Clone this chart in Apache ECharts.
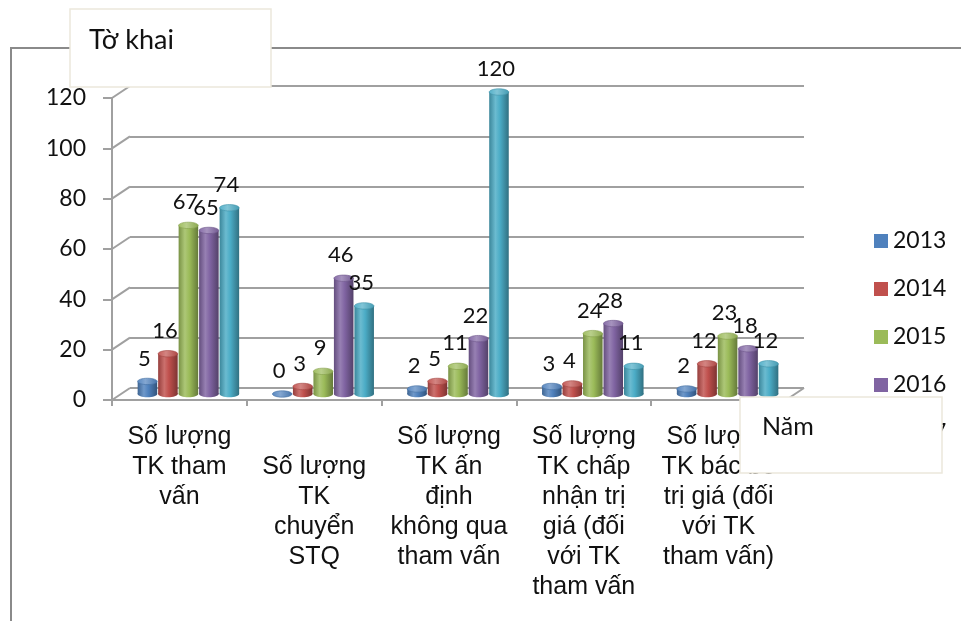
<!DOCTYPE html>
<html>
<head>
<meta charset="utf-8">
<script src="https://cdn.jsdelivr.net/npm/echarts@6/dist/echarts.min.js"></script>
<style>
  html, body { margin: 0; padding: 0; background: #ffffff; }
  #chart { width: 961px; height: 621px; }
</style>
</head>
<body>
<div id="chart"></div>
<script>
// Categories (x axis) and yearly series
const categories = [
  'Số lượng\nTK tham\nvấn',
  '\nSố lượng\nTK\nchuyển\nSTQ',
  'Số lượng\nTK ấn\nđịnh\nkhông qua\ntham vấn',
  'Số lượng\nTK chấp\nnhận trị\ngiá (đối\nvới TK\ntham vấn',
  'Số lượng\nTK bác bỏ\ntrị giá (đối\nvới TK\ntham vấn)'
];
const years = ['2013', '2014', '2015', '2016', '2017'];
const v2013 = [5, 0, 2, 3, 2];
const v2014 = [16, 3, 5, 4, 12];
const v2015 = [67, 9, 11, 24, 23];
const v2016 = [65, 46, 22, 28, 18];
const v2017 = [74, 35, 120, 11, 12];
const seriesValues = [v2013, v2014, v2015, v2016, v2017];
const yTicks = [0, 20, 40, 60, 80, 100, 120];

const colors = ['#4f81bd', '#c0504d', '#9bbb59', '#8064a2', '#4bacc6'];

// depth of the pseudo-3D box (back wall offset)
const DX = 18, DY = -12;

function mix(hex, target, t) {
  const a = parseInt(hex.slice(1), 16), b = parseInt(target.slice(1), 16);
  const ar = a >> 16, ag = (a >> 8) & 255, ab = a & 255;
  const br = b >> 16, bg = (b >> 8) & 255, bb = b & 255;
  const r = Math.round(ar + (br - ar) * t);
  const g = Math.round(ag + (bg - ag) * t);
  const bl = Math.round(ab + (bb - ab) * t);
  return 'rgb(' + r + ',' + g + ',' + bl + ')';
}

function bodyGradient(c) {
  return new echarts.graphic.LinearGradient(0, 0, 1, 0, [
    { offset: 0, color: mix(c, '#000000', 0.22) },
    { offset: 0.32, color: mix(c, '#ffffff', 0.18) },
    { offset: 0.55, color: c },
    { offset: 1, color: mix(c, '#000000', 0.35) }
  ]);
}

function topGradient(c) {
  return new echarts.graphic.LinearGradient(0, 0, 1, 0, [
    { offset: 0, color: mix(c, '#ffffff', 0.05) },
    { offset: 0.4, color: mix(c, '#ffffff', 0.3) },
    { offset: 1, color: mix(c, '#000000', 0.1) }
  ]);
}

// cylinder bar drawn at mid-depth of the floor
function cylinder(si) {
  const c = colors[si];
  return function (params, api) {
    const cat = api.value(0), val = api.value(1);
    const base = api.coord([cat, 0]);
    const top = api.coord([cat, val]);
    const band = api.size([1, 0])[0];
    const w = band * 0.145;
    const pitch = band * 0.152;
    const cx = base[0] + DX / 2 + (si - 2) * pitch;
    const yb = base[1] + DY / 2;
    const yt = top[1] + DY / 2;
    const rx = w / 2, ry = 3.2;
    const children = [];
    if (yb - yt > 0.5) {
      children.push({ type: 'ellipse', shape: { cx: cx, cy: yb, rx: rx, ry: ry }, style: { fill: bodyGradient(c) } });
      children.push({ type: 'rect', shape: { x: cx - rx, y: yt, width: w, height: yb - yt }, style: { fill: bodyGradient(c) } });
    }
    children.push({ type: 'ellipse', shape: { cx: cx, cy: yt, rx: rx, ry: ry },
      style: { fill: topGradient(c), stroke: mix(c, '#000000', 0.15), lineWidth: 0.6 } });
    children.push({ type: 'text', z2: 100, style: {
      text: String(val), x: cx - 3, y: yt - 23, align: 'center', verticalAlign: 'middle',
      font: '22px Lato, "Open Sans", sans-serif', fill: '#111111' } });
    return { type: 'group', children: children };
  };
}

// diagonals joining the front axis to the back wall
function frameLines(params, api) {
  const v = api.value(1);
  const y = api.coord([0, v])[1];
  const cs = params.coordSys;
  const st = { stroke: '#a0a0a0', lineWidth: 2 };
  const children = [{ type: 'line', shape: { x1: cs.x, y1: y, x2: cs.x + DX, y2: y + DY }, style: st }];
  if (v === 0) {
    children.push({ type: 'line', shape: { x1: cs.x + cs.width, y1: y, x2: cs.x + cs.width + DX, y2: y + DY }, style: st });
  }
  return { type: 'group', children: children };
}

const chart = echarts.init(document.getElementById('chart'), null, { renderer: 'canvas' });

const series = [
  {
    type: 'custom', xAxisIndex: 0, yAxisIndex: 0, silent: true, z: 1,
    renderItem: frameLines,
    data: yTicks.map(function (t) { return [0, t]; })
  }
];
years.forEach(function (yr, si) {
  series.push({
    name: yr, type: 'custom', xAxisIndex: 0, yAxisIndex: 0, z: 3,
    itemStyle: { color: colors[si] },
    renderItem: cylinder(si),
    data: seriesValues[si].map(function (v, ci) { return [ci, v]; })
  });
});

const option = {
  animation: false,
  backgroundColor: '#ffffff',
  color: colors,
  grid: [
    { left: 112, top: 98, width: 674, height: 302 },
    { left: 112 + DX, top: 98 + DY, width: 674, height: 302 }
  ],
  xAxis: [
    {
      type: 'category', gridIndex: 0, data: categories,
      axisLine: { show: true, lineStyle: { color: '#a0a0a0', width: 2 } },
      axisTick: { show: true, length: 6, lineStyle: { color: '#a0a0a0', width: 2 } },
      axisLabel: {
        interval: 0, margin: 22, color: '#111111',
        fontFamily: '"Liberation Sans", Arial, sans-serif', fontSize: 25, lineHeight: 30
      },
      splitLine: { show: false }
    },
    { type: 'category', gridIndex: 1, data: categories, show: false }
  ],
  yAxis: [
    {
      type: 'value', gridIndex: 0, min: 0, max: 120, interval: 20,
      axisLine: { show: true, lineStyle: { color: '#a0a0a0', width: 2 } },
      axisTick: { show: true, length: 9, lineStyle: { color: '#a0a0a0', width: 2 } },
      axisLabel: {
        margin: 26, color: '#111111',
        fontFamily: 'Lato, "Open Sans", sans-serif', fontSize: 23
      },
      splitLine: { show: false }
    },
    {
      type: 'value', gridIndex: 1, min: 0, max: 120, interval: 20,
      axisLine: { show: false }, axisTick: { show: false }, axisLabel: { show: false },
      splitLine: { show: true, lineStyle: { color: '#a0a0a0', width: 2 } }
    }
  ],
  legend: {
    orient: 'vertical', left: 869, top: 224, itemGap: 24,
    itemWidth: 14, itemHeight: 14, icon: 'rect',
    data: years,
    textStyle: {
      fontFamily: 'Lato, "Open Sans", sans-serif', fontSize: 23, lineHeight: 24,
      color: '#111111'
    }
  },
  graphic: [
    { type: 'polyline', z: 90, silent: true,
      shape: { points: [[11, 640], [11, 48], [980, 48]] },
      style: { stroke: '#8a8a8a', lineWidth: 2, fill: null } },
    { type: 'rect', z: 100, silent: true,
      shape: { x: 70, y: 9, width: 201, height: 78 },
      style: { fill: '#ffffff', stroke: '#ebe8dc', lineWidth: 1.5 } },
    { type: 'text', z: 101, silent: true,
      style: { text: 'Tờ khai', x: 89, y: 40, verticalAlign: 'middle',
        font: '27px Lato, "Open Sans", sans-serif', fill: '#111111' } },
    { type: 'rect', z: 100, silent: true,
      shape: { x: 740, y: 397, width: 202, height: 76 },
      style: { fill: '#ffffff', stroke: '#ebe8dc', lineWidth: 1.5 } },
    { type: 'text', z: 101, silent: true,
      style: { text: 'Năm', x: 762, y: 427, verticalAlign: 'middle',
        font: '25px Lato, "Open Sans", sans-serif', fill: '#111111' } }
  ],
  series: series
};

chart.setOption(option);
</script>
</body>
</html>
